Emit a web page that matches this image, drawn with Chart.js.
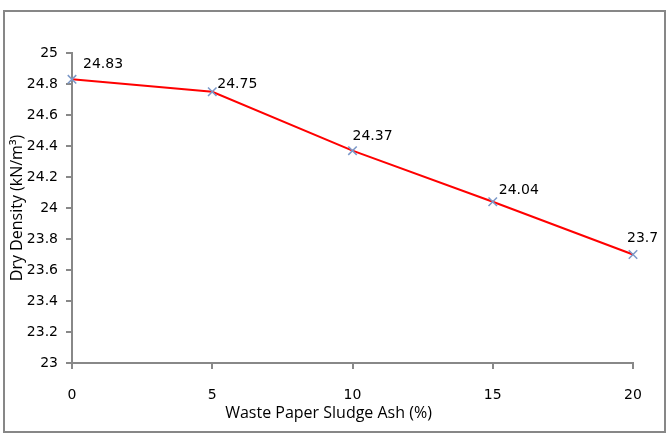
<!DOCTYPE html>
<html>
<head>
<meta charset="utf-8">
<script src="https://cdn.jsdelivr.net/npm/chart.js@4/dist/chart.umd.min.js"></script>
<style>
  body { margin: 0; background: #fff; }
  #wrap { position: relative; width: 669px; height: 434px; }
  #frame { position: absolute; left: 3px; top: 10px; width: 663px; height: 423px;
           box-sizing: border-box; border: 2px solid #878787; pointer-events: none; }
</style>
</head>
<body>
<div id="wrap">
  <canvas id="densityChart" width="669" height="434"></canvas>
  <div id="frame"></div>
</div>
<script>
const ashPercent = [0, 5, 10, 15, 20];
const dryDensity = [24.83, 24.75, 24.37, 24.04, 23.7];
const densityLabels = ['24.83', '24.75', '24.37', '24.04', '23.7'];
const xTitle = 'Waste Paper Sludge Ash (%)';

// where each value label sits relative to its marker
const labelOffsets = [[11, -15], [5, -7], [0, -14], [6, -11], [-6, -16]];

const labelPlugin = {
    id: 'pointLabels',
    afterDatasetsDraw(chart) {
        const ctx = chart.ctx;
        const meta = chart.getDatasetMeta(0);
        ctx.save();
        ctx.font = '14px "DejaVu Sans"';
        ctx.fillStyle = '#000';
        ctx.textAlign = 'left';
        ctx.textBaseline = 'middle';
        meta.data.forEach(function (pt, i) {
            ctx.fillText(densityLabels[i], pt.x + labelOffsets[i][0], pt.y + labelOffsets[i][1]);
        });
        // x axis title, sits a bit left of the plot centre like the original
        ctx.font = '16px "Open Sans"';
        ctx.textAlign = 'center';
        ctx.fillText(xTitle, chart.chartArea.left + chart.chartArea.width / 2 - 24, 413);
        ctx.restore();
    }
};

const ctx = document.getElementById('densityChart');

new Chart(ctx, {
    type: 'line',
    data: {
        datasets: [{
            data: ashPercent.map((x, i) => ({ x: x, y: dryDensity[i] })),
            borderColor: '#ff0000',
            borderWidth: 2,
            pointStyle: 'crossRot',
            pointRadius: 6,
            pointBorderColor: '#7b98c8',
            pointBorderWidth: 1.5,
            tension: 0,
            clip: false
        }]
    },
    options: {
        responsive: false,
        animation: false,
        layout: { padding: { top: 53, right: 36, left: 0, bottom: 0 } },
        plugins: { legend: { display: false }, tooltip: { enabled: false } },
        scales: {
            x: {
                type: 'linear',
                min: 0,
                max: 20,
                ticks: { stepSize: 5, color: '#000', font: { family: 'DejaVu Sans', size: 14 }, padding: 18 },
                grid: { drawOnChartArea: false, drawTicks: true, tickLength: 6, color: '#888', lineWidth: 2 },
                border: { color: '#888', width: 2 },
                afterFit(scale) { scale.height = 71; }
            },
            y: {
                min: 23,
                max: 25,
                ticks: {
                    stepSize: 0.2,
                    color: '#000',
                    font: { family: 'DejaVu Sans', size: 14 },
                    padding: 8,
                    callback: v => String(Number(v.toFixed(1)))
                },
                grid: { drawOnChartArea: false, drawTicks: true, tickLength: 6, color: '#888', lineWidth: 2 },
                border: { color: '#888', width: 2 },
                title: {
                    display: true,
                    text: 'Dry Density (kN/m³)',
                    color: '#000',
                    font: { family: 'Open Sans', size: 16 },
                    padding: { top: 8, bottom: 0 }
                },
                afterFit(scale) { scale.width = 72; }
            }
        }
    },
    plugins: [labelPlugin]
});
</script>
</body>
</html>
